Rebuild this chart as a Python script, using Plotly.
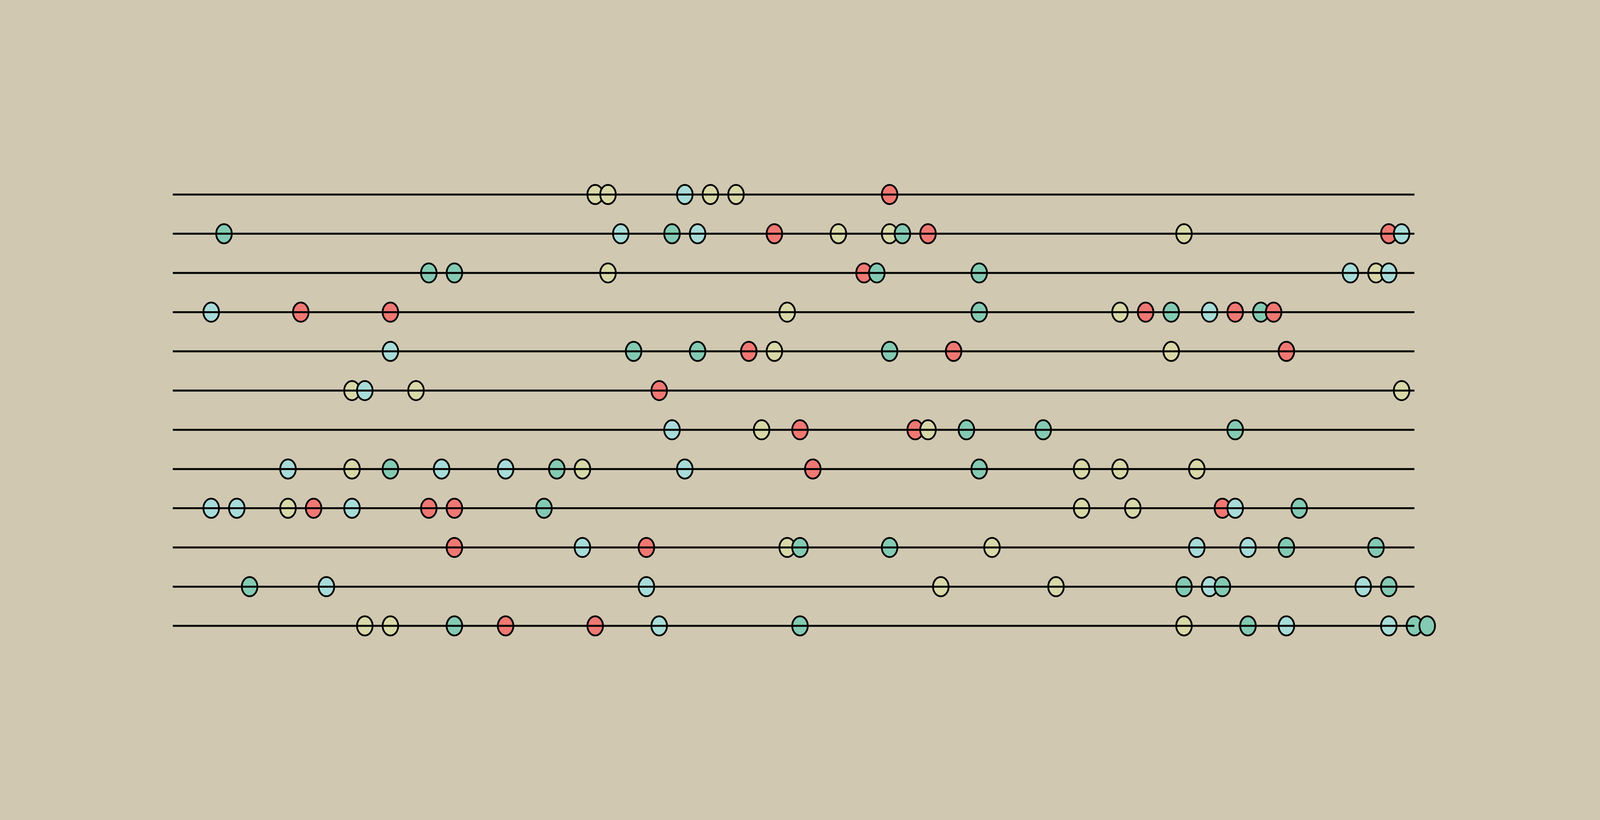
import plotly.graph_objects as go

# bead positions along each string (step index), and bead kinds, top row first
row_1_x = [33, 34, 40, 42, 44, 56]
row_1_kind = ["sand", "sand", "sky", "sand", "sand", "coral"]
row_2_x = [4, 35, 39, 41, 47, 52, 56, 57, 59, 79, 95, 96]
row_2_kind = ["mint", "sky", "mint", "sky", "coral", "sand", "sand", "mint", "coral", "sand", "coral", "sky"]
row_3_x = [20, 22, 34, 54, 55, 63, 92, 94, 95]
row_3_kind = ["mint", "mint", "sand", "coral", "mint", "mint", "sky", "sand", "sky"]
row_4_x = [3, 10, 17, 48, 63, 74, 76, 78, 81, 83, 85, 86]
row_4_kind = ["sky", "coral", "coral", "sand", "mint", "sand", "coral", "mint", "sky", "coral", "mint", "coral"]
row_5_x = [17, 36, 41, 45, 47, 56, 61, 78, 87]
row_5_kind = ["sky", "mint", "mint", "coral", "sand", "mint", "coral", "sand", "coral"]
row_6_x = [14, 15, 19, 38, 96]
row_6_kind = ["sand", "sky", "sand", "coral", "sand"]
row_7_x = [39, 46, 49, 58, 59, 62, 68, 83]
row_7_kind = ["sky", "sand", "coral", "coral", "sand", "mint", "mint", "mint"]
row_8_x = [9, 14, 17, 21, 26, 30, 32, 40, 50, 63, 71, 74, 80]
row_8_kind = ["sky", "sand", "mint", "sky", "sky", "mint", "sand", "sky", "coral", "mint", "sand", "sand", "sand"]
row_9_x = [3, 5, 9, 11, 14, 20, 22, 29, 71, 75, 82, 83, 88]
row_9_kind = ["sky", "sky", "sand", "coral", "sky", "coral", "coral", "mint", "sand", "sand", "coral", "sky", "mint"]
row_10_x = [22, 32, 37, 48, 49, 56, 64, 80, 84, 87, 94]
row_10_kind = ["coral", "sky", "coral", "sand", "mint", "mint", "sand", "sky", "sky", "mint", "mint"]
row_11_x = [6, 12, 37, 60, 69, 79, 81, 82, 93, 95]
row_11_kind = ["mint", "sky", "sky", "sand", "sand", "mint", "sky", "mint", "sky", "mint"]
row_12_x = [15, 17, 22, 26, 33, 38, 49, 79, 84, 87, 95, 97, 98]
row_12_kind = ["sand", "sand", "mint", "coral", "coral", "sky", "mint", "sand", "mint", "sky", "sky", "mint", "mint"]

string_start = 0
string_end = 97

rows_x = [row_1_x, row_2_x, row_3_x, row_4_x, row_5_x, row_6_x,
          row_7_x, row_8_x, row_9_x, row_10_x, row_11_x, row_12_x]
rows_kind = [row_1_kind, row_2_kind, row_3_kind, row_4_kind, row_5_kind, row_6_kind,
             row_7_kind, row_8_kind, row_9_kind, row_10_kind, row_11_kind, row_12_kind]

palette = {"sand": "#d8d8a8", "sky": "#a8dcd8", "mint": "#84cab2", "coral": "#f07872"}
bg = "#d0c8b0"

# bead half-width / half-height in axis units, so beads scale with the plot
bead_rx = 0.61
bead_ry = 0.245

fig = go.Figure()

# beads drawn left to right (right one on top), below the strings
shapes = []
for i, (xs, kinds) in enumerate(zip(rows_x, rows_kind)):
    for x, k in zip(xs, kinds):
        shapes.append(dict(
            type="circle", xref="x", yref="y", layer="below",
            x0=x - bead_rx, x1=x + bead_rx,
            y0=i - bead_ry, y1=i + bead_ry,
            fillcolor=palette[k],
            line=dict(color="black", width=4.5),
        ))

for i in range(len(rows_x)):
    fig.add_trace(go.Scatter(
        x=[string_start, string_end],
        y=[i, i],
        mode="lines",
        line=dict(color="black", width=5),
        hoverinfo="skip",
        showlegend=False,
    ))

fig.update_layout(
    autosize=True,
    shapes=shapes,
    margin=dict(l=0, r=0, t=0, b=0),
    paper_bgcolor=bg,
    plot_bgcolor=bg,
    xaxis=dict(range=[-13.5, 111.5], visible=False, fixedrange=True),
    yaxis=dict(range=[15.95, -4.96], visible=False, fixedrange=True),
)

# fill the whole window, no body margin
fix_page = (
    "document.body.style.margin='0';"
    "document.body.style.background='" + bg + "';"
    "Plotly.Plots.resize(document.getElementById('{plot_id}'));"
)

fig.write_html(
    "out.html",
    default_width="100vw",
    default_height="100vh",
    config={"responsive": True, "displayModeBar": False},
    post_script=fix_page,
)
